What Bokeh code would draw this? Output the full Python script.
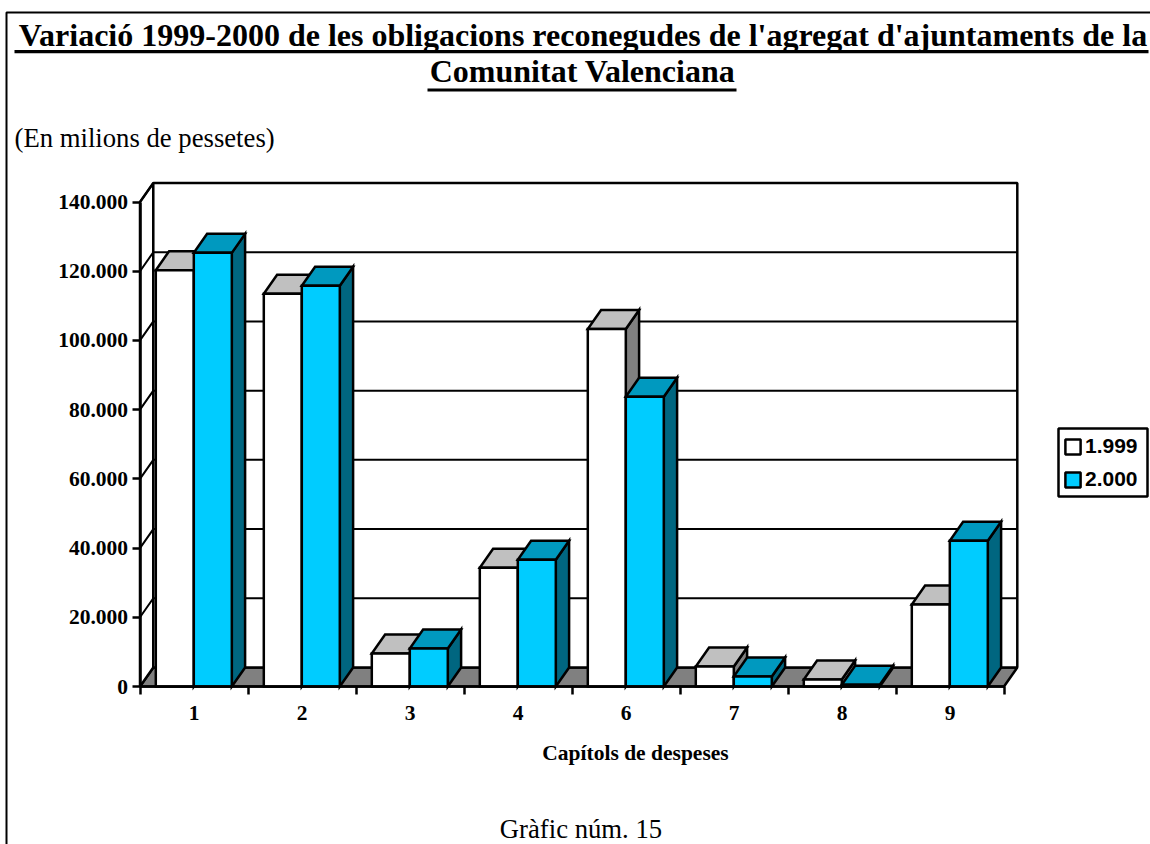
from bokeh.plotting import figure
from bokeh.embed import file_html
from bokeh.resources import INLINE
from bokeh.models import (ColumnDataSource, FixedTicker, Label, BoxAnnotation, Legend, LegendItem,
                          Range1d, LinearAxis)

categories = ["1", "2", "3", "4", "6", "7", "8", "9"]
values_1999 = [120300, 113500, 9500, 34300, 103300, 5800, 2000, 23700]
values_2000 = [125300, 115800, 11000, 36600, 83700, 2900, 500, 42100]
series_names = ["1.999", "2.000"]
y_ticks = [0, 20000, 40000, 60000, 80000, 100000, 120000, 140000]
y_tick_labels = ["0", "20.000", "40.000", "60.000", "80.000", "100.000", "120.000", "140.000"]

W, H = 1150, 844
FL, FB = 139.5, 686                       # page pixel of x=0 and y=0
PX_X = 108.0                              # px per category
PX_Y = 484.5 / 140000                     # px per unit value
DX = 13.3 / PX_X                          # depth, category units
DY = 19 / PX_Y                            # depth, value units
GAP = 15.8 / PX_X
BW = 38 / PX_X
n = len(categories)

p = figure(width=W, height=H, output_backend="svg", toolbar_location=None,
           x_range=Range1d(-FL / PX_X, (W - FL) / PX_X), y_range=Range1d((FB - H) / PX_Y, FB / PX_Y),
           min_border=0, outline_line_color=None, x_axis_location=None, y_axis_location=None)
p.grid.visible = False
p.background_fill_color = None

CHART_FONT = "21.5px"
LW = 2.5

# left axis
ya = LinearAxis(bounds=(0, 140000), fixed_location=0)
ya.ticker = FixedTicker(ticks=y_ticks)
ya.major_label_overrides = dict(zip(y_ticks, y_tick_labels))
ya.major_tick_out = 8; ya.major_tick_in = 0; ya.minor_tick_out = 0; ya.minor_tick_in = 0
ya.major_tick_line_width = LW; ya.axis_line_width = LW
ya.axis_line_color = "black"; ya.major_tick_line_color = "black"
ya.major_label_text_font = "Liberation Serif"; ya.major_label_text_font_style = "bold"
ya.major_label_text_font_size = CHART_FONT; ya.major_label_text_color = "black"
ya.major_label_standoff = 4
p.add_layout(ya, "left")

# bottom axis: boundary ticks as minor, labels at centres
xa = LinearAxis(bounds=(0, n), fixed_location=0)
centers = [i + 0.5 for i in range(n)]
xa.ticker = FixedTicker(ticks=centers, minor_ticks=list(range(n + 1)))
xa.major_label_overrides = dict(zip(centers, categories))
xa.major_tick_out = 0; xa.major_tick_in = 0
xa.minor_tick_out = 8; xa.minor_tick_in = 0; xa.minor_tick_line_width = LW; xa.minor_tick_line_color = "black"
xa.axis_line_width = LW; xa.axis_line_color = "black"
xa.major_label_text_font = "Liberation Serif"; xa.major_label_text_font_style = "bold"
xa.major_label_text_font_size = CHART_FONT; xa.major_label_text_color = "black"
xa.major_label_standoff = 11
p.add_layout(xa, "below")

# walls and floor
wall_xs = [[0, DX, n + DX, n, 0], [0, DX, DX, 0, 0], [DX, n + DX, n + DX, DX, DX]]
wall_ys = [[0, DY, DY, 0, 0], [0, DY, 140000 + DY, 140000, 0], [DY, DY, 140000 + DY, 140000 + DY, DY]]
p.patches(wall_xs, wall_ys, fill_color=["#808080", "white", "white"], line_color="black", line_width=LW)
p.multi_line([[0, DX, n + DX] for _ in y_ticks[1:]],
             [[v, v + DY, v + DY] for v in y_ticks[1:]], line_color="black", line_width=2)

# bars
xs, ys, fills = [], [], []
styles = [("white", "#C0C0C0", "#808080"), ("#00CCFF", "#0099BF", "#006680")]
for i in range(n):
    for k, vals in enumerate((values_1999, values_2000)):
        x0 = i + GAP + k * BW
        x1 = x0 + BW
        v = vals[i]
        front, top, side = styles[k]
        xs += [[x1, x1 + DX, x1 + DX, x1], [x0, x1, x1 + DX, x0 + DX], [x0, x1, x1, x0]]
        ys += [[0, DY, v + DY, v], [v, v, v + DY, v + DY], [0, 0, v, v]]
        fills += [side, top, front]
p.patches("xs", "ys", source=ColumnDataSource(dict(xs=xs, ys=ys, fill=fills)),
          fill_color="fill", line_color="black", line_width=LW, line_join="miter")


def box(l, r, t, b, **kw):
    p.add_layout(BoxAnnotation(left=l, right=r, top=H - t, bottom=H - b, left_units="screen",
                               right_units="screen", top_units="screen", bottom_units="screen", **kw))


# legend
box(1058, 1147, 428, 496, fill_color="white", fill_alpha=1, line_color="black", line_alpha=1, line_width=2.5)
r1 = p.quad(left=[0], right=[0], top=[0], bottom=[0], fill_color="white", line_color="black", line_width=2.5)
r2 = p.quad(left=[0], right=[0], top=[0], bottom=[0], fill_color="#00CCFF", line_color="black", line_width=2.5)
leg = Legend(items=[LegendItem(label=series_names[0], renderers=[r1]), LegendItem(label=series_names[1], renderers=[r2])],
             location=(1063, H - 491), orientation="vertical",
             border_line_color=None, background_fill_alpha=0,
             label_text_font="Liberation Sans", label_text_font_style="bold", label_text_font_size="21px",
             label_text_color="black", glyph_width=19, glyph_height=19, padding=6, spacing=9, margin=0,
             label_standoff=3, label_height=20)
p.add_layout(leg, "center")


def txt(x, y, s, size, bold=False, align="left"):
    p.add_layout(Label(x=x, y=H - y, x_units="screen", y_units="screen", text=s, text_font="Liberation Serif",
                       text_font_size=f"{size}px", text_font_style="bold" if bold else "normal",
                       text_color="black", text_align=align, text_baseline="alphabetic"))


txt(582.5, 34, "Variació 1999-2000 de les obligacions reconegudes de l'agregat d'ajuntaments de la", 32, True, "center")
txt(582, 70, "Comunitat Valenciana", 32, True, "center")
txt(14, 137, "(En milions de pessetes)", 26.7)
txt(635, 752, "Capítols de despeses", 21.5, True, "center")
txt(580.5, 828, "Gràfic núm. 15", 26.7, False, "center")

box(6, 1156, 12, 850, fill_alpha=0, line_color="black", line_alpha=1, line_width=2)
box(14, 1148, 49.5, 52.7, fill_color="black", fill_alpha=1, line_color=None)
box(427, 736, 88, 91, fill_color="black", fill_alpha=1, line_color=None)

open("out.html", "w").write(file_html(p, INLINE))
